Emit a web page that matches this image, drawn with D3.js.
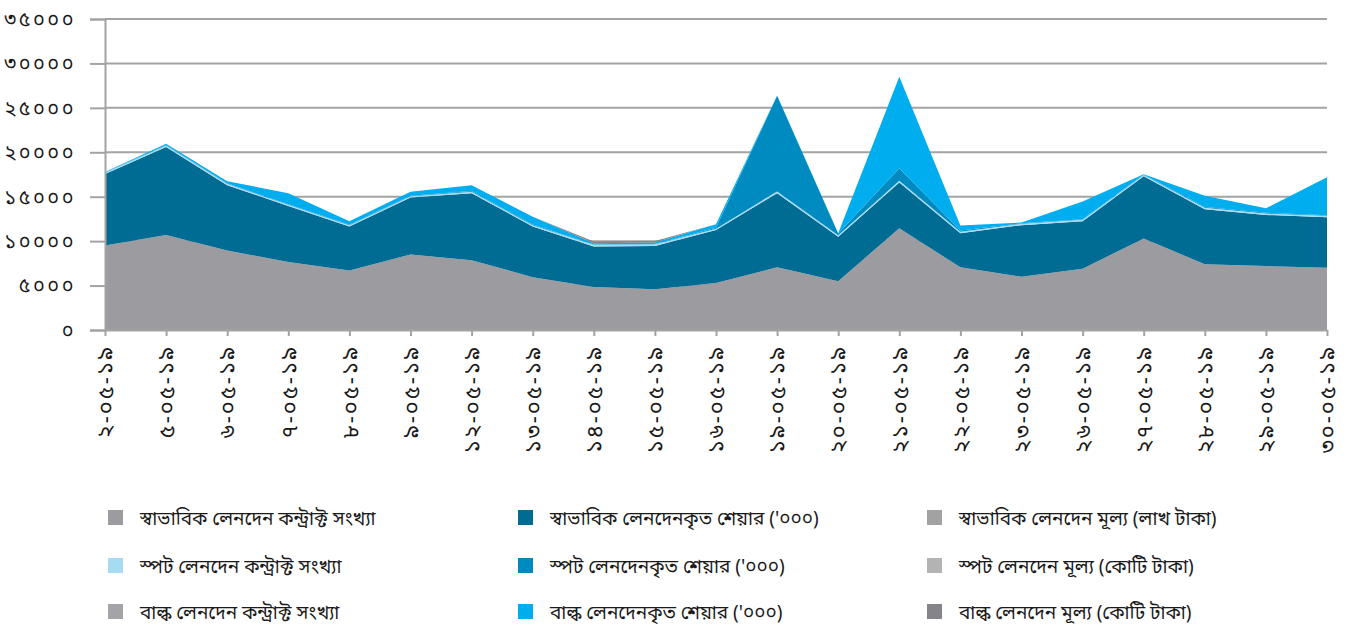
<!DOCTYPE html>
<html>
<head>
<meta charset="utf-8">
<script src="https://cdn.jsdelivr.net/npm/d3@7"></script>
<style>
  body { margin: 0; background: #fff; }
  svg text { font-family: "Noto Sans Bengali", "Noto Sans", "DejaVu Sans", sans-serif; fill: #1a1a1a; }
</style>
</head>
<body>
<svg id="chart" width="1355" height="628"></svg>
<script>
// dates (dd-mm-yy, Bengali digits)
var dates = ["২-০৫-১৯","৫-০৫-১৯","৬-০৫-১৯","৭-০৫-১৯","৮-০৫-১৯","৯-০৫-১৯","১২-০৫-১৯",
  "১৩-০৫-১৯","১৪-০৫-১৯","১৫-০৫-১৯","১৬-০৫-১৯","১৯-০৫-১৯","২০-০৫-১৯","২১-০৫-১৯",
  "২২-০৫-১৯","২৩-০৫-১৯","২৬-০৫-১৯","২৭-০৫-১৯","২৮-০৫-১৯","২৯-০৫-১৯","৩০-০৫-১৯"];

var normalContracts = [9500,10700,8950,7650,6700,8500,7850,5950,4850,4600,5300,7050,5500,11450,7050,6000,6900,10300,7400,7200,7000];
var normalShares    = [8050,9900,7350,6300,4950,6400,7550,5700,4550,4850,5950,8350,5000,5150,3850,5800,5350,7000,6200,5750,5700];
var normalValue     = [0,0,0,0,0,0,0,0,0,0,0,0,0,0,0,0,0,0,0,0,0];
var spotContracts   = [150,150,150,150,150,150,150,150,200,200,150,200,150,200,150,150,150,150,150,150,150];
var spotShares      = [30,80,60,50,40,60,80,60,20,20,100,10750,200,1400,150,50,50,50,80,100,50];
var spotValue       = [0,0,0,0,0,0,0,0,0,0,0,0,0,0,0,0,0,0,0,0,0];
var bulkContracts   = [0,0,0,0,0,0,0,0,0,0,0,0,0,0,0,0,0,0,0,0,0];
var bulkShares      = [50,120,240,1250,410,440,670,890,150,180,400,50,50,10300,550,100,2000,30,1270,500,4300];
var bulkValue       = [0,0,0,0,0,0,0,0,180,180,0,0,0,0,0,0,0,0,0,0,0];

var seriesNames = [
  "স্বাভাবিক লেনদেন কন্ট্রাক্ট সংখ্যা",
  "স্বাভাবিক লেনদেনকৃত শেয়ার ('০০০)",
  "স্বাভাবিক লেনদেন মূল্য (লাখ টাকা)",
  "স্পট লেনদেন কন্ট্রাক্ট সংখ্যা",
  "স্পট লেনদেনকৃত শেয়ার ('০০০)",
  "স্পট লেনদেন মূল্য (কোটি টাকা)",
  "বাল্ক লেনদেন কন্ট্রাক্ট সংখ্যা",
  "বাল্ক লেনদেনকৃত শেয়ার ('০০০)",
  "বাল্ক লেনদেন মূল্য (কোটি টাকা)"
];
var seriesColors = ["#9c9ca0","#006b93","#a2a2a2","#a6dcf3","#008bc0","#b3b3b3","#a4a4a8","#00aeef","#858589"];
var yTicks = [0,5000,10000,15000,20000,25000,30000,35000];

var seriesData = [normalContracts, normalShares, normalValue, spotContracts, spotShares,
  spotValue, bulkContracts, bulkShares, bulkValue];

var bn = "০১২৩৪৫৬৭৮৯";
function toBn(n) {
  return String(n).replace(/[0-9]/g, function(c) { return bn[+c]; });
}

var rows = dates.map(function(d, i) {
  var r = { date: d };
  seriesData.forEach(function(s, k) { r["s" + k] = s[i]; });
  return r;
});
var keys = seriesData.map(function(s, k) { return "s" + k; });

var svg = d3.select("#chart");
var plotLeft = 105, plotRight = 1327, plotTop = 19, plotBottom = 330;

var x = d3.scalePoint().domain(dates).range([plotLeft, plotRight]).padding(0);
var y = d3.scaleLinear().domain([0, 35000]).range([plotBottom, plotTop]);

// gridlines
svg.append("g")
  .selectAll("line")
  .data(yTicks.slice(1))
  .enter().append("line")
  .attr("x1", plotLeft).attr("x2", plotRight)
  .attr("y1", function(d) { return y(d); })
  .attr("y2", function(d) { return y(d); })
  .attr("stroke", "#a3a3a3")
  .attr("stroke-width", 2);

var stack = d3.stack().keys(keys);
var layers = stack(rows);

var area = d3.area()
  .x(function(d) { return x(d.data.date); })
  .y0(function(d) { return y(d[0]); })
  .y1(function(d) { return y(d[1]); });

svg.append("g")
  .selectAll("path")
  .data(layers)
  .enter().append("path")
  .attr("d", area)
  .attr("fill", function(d, i) { return seriesColors[i]; });

// y axis
var yAxis = d3.axisLeft(y)
  .tickValues(yTicks)
  .tickSize(15)
  .tickPadding(14)
  .tickFormat(toBn);
var gy = svg.append("g").attr("transform", "translate(" + plotLeft + ",0)").call(yAxis);
gy.selectAll("line").attr("stroke", "#a3a3a3").attr("stroke-width", 2);
gy.select(".domain").attr("stroke", "#a3a3a3").attr("stroke-width", 2);
gy.selectAll("text")
  .attr("font-size", 20)
  .style("letter-spacing", "2.5px")
  .style("fill", "#1a1a1a");

// x axis
var xAxis = d3.axisBottom(x).tickSize(6).tickPadding(0).tickSizeOuter(0);
var gx = svg.append("g").attr("transform", "translate(0," + plotBottom + ")").call(xAxis);
gx.selectAll("line").attr("stroke", "#a3a3a3").attr("stroke-width", 2);
gx.select(".domain").attr("stroke", "#a3a3a3").attr("stroke-width", 2);
gx.selectAll("text")
  .attr("font-size", 22)
  .style("letter-spacing", "2px")
  .attr("transform", "rotate(-90)")
  .attr("text-anchor", "end")
  .attr("x", -15)
  .attr("y", 0)
  .attr("dy", "0.35em")
  .style("fill", "#1a1a1a");

// legend, 3 columns
var colX = [108, 518, 927], rowY = [518, 566, 612];
var legend = svg.append("g")
  .selectAll("g")
  .data(seriesNames)
  .enter().append("g")
  .attr("transform", function(d, i) {
    return "translate(" + colX[i % 3] + "," + rowY[Math.floor(i / 3)] + ")";
  });
legend.append("rect")
  .attr("x", 0).attr("y", -8)
  .attr("width", 15).attr("height", 15)
  .attr("fill", function(d, i) { return seriesColors[i]; });
legend.append("text")
  .attr("x", 32).attr("y", 0)
  .attr("dy", "0.35em")
  .attr("font-size", 19)
  .text(function(d) { return d; });
</script>
</body>
</html>
